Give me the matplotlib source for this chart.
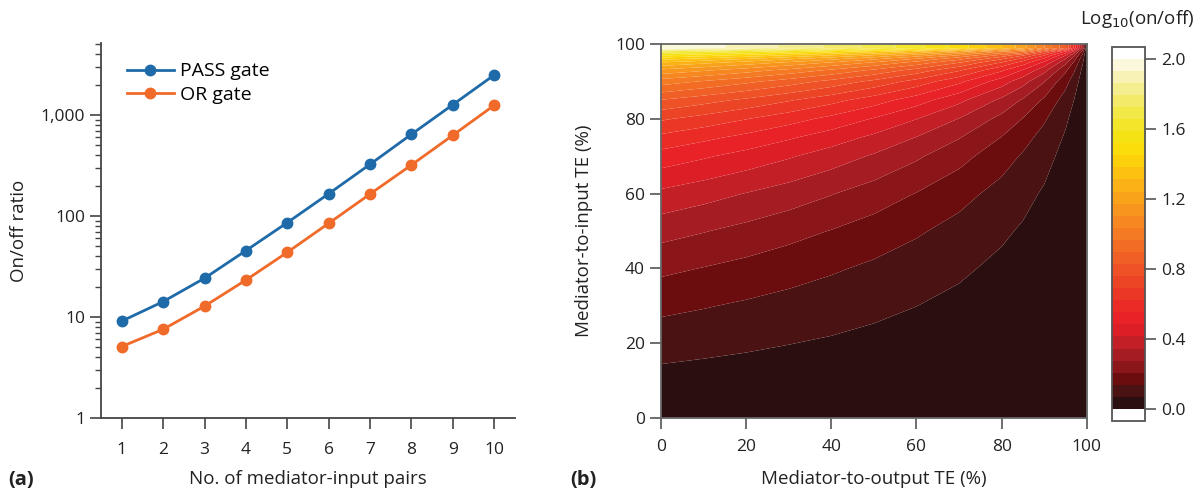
import numpy as np
import matplotlib
matplotlib.use("Agg")
import matplotlib.pyplot as plt
from matplotlib.ticker import FixedLocator, FuncFormatter, NullFormatter

plt.rcParams['font.family'] = ['Open Sans', 'DejaVu Sans']

# ---------------- Panel (a) data ----------------
pairs = [1, 2, 3, 4, 5, 6, 7, 8, 9, 10]
pass_gate = [9.1, 14.2, 24.2, 45.4, 86, 166, 325, 644, 1265, 2490]
or_gate = [5.1, 7.55, 12.8, 23.2, 43.7, 84.6, 165, 320, 630, 1248]
ytick_vals = [1, 10, 100, 1000]
ytick_labels = ["1", "10", "100", "1,000"]

# ---------------- Panel (b) data: log10(on/off) ----------------
out_te = [0, 10, 20, 30, 40, 50, 60, 70, 80, 85, 90, 95, 97, 99, 100]                 # x (%)
in_te = [0, 10, 20, 30, 40, 50, 60, 70, 75, 80, 85, 90, 93, 95, 96, 97, 98, 99, 100]  # y (%)
log_ratio = [
    [0.000, 0.000, 0.000, 0.000, 0.000, 0.000, 0.000, 0.000, 0.000, 0.000, 0.000, 0.000, 0.000, 0.000, 0.0],
    [0.046, 0.041, 0.037, 0.033, 0.028, 0.024, 0.019, 0.014, 0.010, 0.007, 0.005, 0.002, 0.001, 0.0005, 0.0],
    [0.097, 0.088, 0.079, 0.070, 0.061, 0.051, 0.041, 0.031, 0.021, 0.016, 0.011, 0.005, 0.003, 0.001, 0.0],
    [0.155, 0.142, 0.128, 0.114, 0.099, 0.084, 0.069, 0.053, 0.036, 0.027, 0.018, 0.009, 0.006, 0.002, 0.0],
    [0.222, 0.204, 0.186, 0.166, 0.146, 0.125, 0.103, 0.079, 0.054, 0.041, 0.028, 0.014, 0.009, 0.003, 0.0],
    [0.301, 0.279, 0.255, 0.230, 0.204, 0.176, 0.146, 0.114, 0.079, 0.061, 0.041, 0.021, 0.013, 0.004, 0.0],
    [0.398, 0.371, 0.342, 0.312, 0.279, 0.243, 0.204, 0.161, 0.114, 0.088, 0.061, 0.031, 0.019, 0.007, 0.0],
    [0.523, 0.491, 0.457, 0.421, 0.380, 0.336, 0.286, 0.230, 0.166, 0.130, 0.091, 0.048, 0.029, 0.010, 0.0],
    [0.602, 0.568, 0.532, 0.491, 0.447, 0.398, 0.342, 0.279, 0.204, 0.161, 0.114, 0.061, 0.037, 0.013, 0.0],
    [0.699, 0.663, 0.623, 0.580, 0.532, 0.477, 0.415, 0.342, 0.255, 0.204, 0.146, 0.079, 0.049, 0.017, 0.0],
    [0.824, 0.785, 0.743, 0.696, 0.644, 0.584, 0.514, 0.431, 0.329, 0.267, 0.195, 0.108, 0.068, 0.024, 0.0],
    [1.000, 0.959, 0.914, 0.863, 0.806, 0.740, 0.663, 0.568, 0.447, 0.371, 0.279, 0.161, 0.104, 0.037, 0.0],
    [1.155, 1.113, 1.066, 1.013, 0.953, 0.883, 0.800, 0.698, 0.563, 0.476, 0.367, 0.221, 0.146, 0.054, 0.0],
    [1.301, 1.258, 1.210, 1.155, 1.093, 1.021, 0.935, 0.826, 0.681, 0.586, 0.462, 0.290, 0.196, 0.076, 0.0],
    [1.398, 1.354, 1.305, 1.250, 1.188, 1.114, 1.025, 0.914, 0.763, 0.663, 0.532, 0.342, 0.236, 0.093, 0.0],
    [1.523, 1.479, 1.429, 1.374, 1.310, 1.235, 1.144, 1.029, 0.873, 0.767, 0.627, 0.418, 0.295, 0.122, 0.0],
    [1.699, 1.654, 1.604, 1.548, 1.483, 1.407, 1.314, 1.196, 1.033, 0.971, 0.771, 0.538, 0.393, 0.173, 0.0],
    [2.000, 1.960, 1.905, 1.847, 1.781, 1.703, 1.609, 1.487, 1.318, 1.200, 1.037, 0.842, 0.599, 0.299, 0.0],
    [2.000, 1.960, 1.905, 1.847, 1.781, 1.703, 1.609, 1.487, 1.318, 1.200, 1.037, 0.842, 0.599, 0.299, 0.0],
]
cbar_ticks = [0.0, 0.4, 0.8, 1.2, 1.6, 2.0]

# band colours, bottom to top (white below 0 and above 2)
band_colors = [
    "#ffffff",
    "#2b0e0f", "#4a1212", "#6b0c0e", "#8a161a", "#a51d22", "#c21f27",
    "#dc1f27", "#e92227", "#ea2b26", "#eb3826", "#ec4526", "#ee5226",
    "#f05f25", "#f26c24", "#f47a23", "#f68721", "#f8951e", "#f9a31a",
    "#fbb216", "#fdc111", "#fdd00c", "#fbdd0c", "#f5e214", "#f2e52a",
    "#f2e848", "#f3ea6a", "#f5ee8e", "#f8f2b4", "#fcf8dc",
    "#ffffff",
]
band_step = 0.069
levels = -0.0005 + band_step * np.arange(-1, len(band_colors))

blue = "#1f6aa8"
orange = "#f06a2a"
axis_col = "#444444"
text_col = "#222222"

fig = plt.figure(figsize=(11.96, 4.90), dpi=100)

# ---------------- Panel (a) ----------------
ax = fig.add_axes([0.0845, 0.147, 0.346, 0.765])
ax.plot(pairs, pass_gate, '-o', color=blue, lw=2.0, ms=7.5, label="PASS gate")
ax.plot(pairs, or_gate, '-o', color=orange, lw=2.0, ms=7.5, label="OR gate")
ax.set_yscale('log')
ax.set_ylim(1, 5150)
ax.set_xlim(0.5, 10.5)
ax.set_xticks(pairs)
ax.set_xticklabels([str(p) for p in pairs])
ax.yaxis.set_major_locator(FixedLocator(ytick_vals))
ax.set_yticklabels(ytick_labels)
ax.yaxis.set_minor_locator(FixedLocator([m * 10 ** d for d in range(4) for m in range(2, 10) if m * 10 ** d < 5150]))
ax.yaxis.set_minor_formatter(NullFormatter())
for s in ['top', 'right']:
    ax.spines[s].set_visible(False)
for s in ['left', 'bottom']:
    ax.spines[s].set_color(axis_col)
    ax.spines[s].set_linewidth(1.3)
ax.tick_params(axis='both', which='major', direction='out', length=8, width=1.2,
               color=axis_col, labelsize=12.5, labelcolor=text_col)
ax.tick_params(axis='y', which='minor', direction='out', length=4, width=1.0, color=axis_col)
ax.tick_params(axis='x', pad=9)
ax.set_xlabel("No. of mediator-input pairs", fontsize=13.5, color=text_col, labelpad=9)
ax.set_ylabel("On/off ratio", fontsize=13.5, color=text_col, labelpad=9)
leg = ax.legend(loc='upper left', bbox_to_anchor=(0.03, 0.985), frameon=False, fontsize=14,
                handlelength=2.4, handletextpad=0.3, labelspacing=0.3, borderaxespad=0.3)

# ---------------- Panel (b) ----------------
bx = fig.add_axes([0.5527, 0.147, 0.356, 0.763])
X, Y = np.meshgrid(out_te, in_te)
cs = bx.contourf(X, Y, np.array(log_ratio), levels=levels, colors=band_colors, antialiased=True)
bx.set_xlim(0, 100)
bx.set_ylim(0, 100)
bx.set_xticks([0, 20, 40, 60, 80, 100])
bx.set_yticks([0, 20, 40, 60, 80, 100])
for s in bx.spines.values():
    s.set_color('#666666')
    s.set_linewidth(1.3)
bx.tick_params(axis='both', direction='out', length=8, width=1.2, color='#555555',
               labelsize=12.5, labelcolor=text_col)
bx.tick_params(axis='x', pad=7)
bx.set_xlabel("Mediator-to-output TE (%)", fontsize=13.5, color=text_col, labelpad=11)
bx.set_ylabel("Mediator-to-input TE (%)", fontsize=13.5, color=text_col, labelpad=16)

# ---------------- Colorbar ----------------
cax = fig.add_axes([0.930, 0.1408, 0.0276, 0.764])
cb = fig.colorbar(cs, cax=cax)
cb.set_ticks(cbar_ticks)
cb.ax.yaxis.set_major_formatter(FuncFormatter(lambda v, p: f"{v:.1f}"))
cb.ax.set_ylim(levels[0], levels[-1])
cb.outline.set_edgecolor('#555555')
cb.outline.set_linewidth(1.3)
cb.ax.tick_params(direction='out', length=8, width=1.2, color='#555555',
                  labelsize=12.5, labelcolor=text_col)
cb.ax.minorticks_off()
fig.text(0.999, 0.939, r"Log$_{10}$(on/off)", ha='right', va='bottom', fontsize=13.5, color=text_col)

# panel labels
fig.text(0.007, 0.021, "(a)", fontsize=14.5, fontweight='bold', color=text_col, va='center')
fig.text(0.477, 0.021, "(b)", fontsize=14.5, fontweight='bold', color=text_col, va='center')

fig.savefig("out.png", dpi=100)
